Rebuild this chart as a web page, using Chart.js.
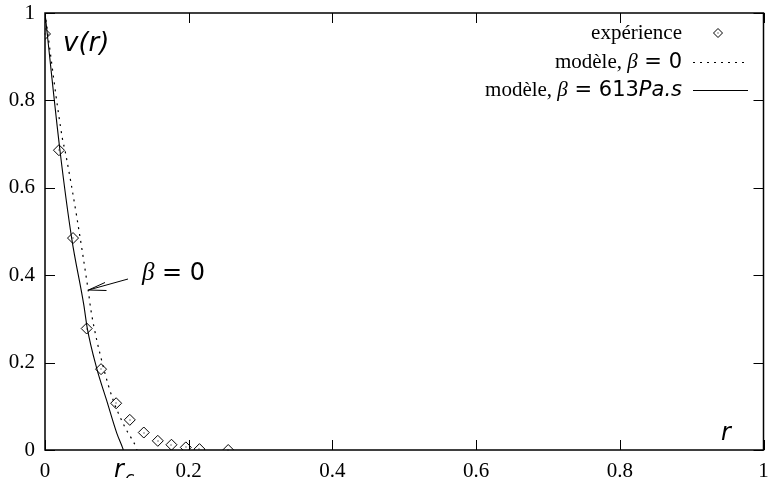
<!DOCTYPE html>
<html>
<head>
<meta charset="utf-8">
<script src="https://cdn.jsdelivr.net/npm/chart.js@4/dist/chart.umd.min.js"></script>
<style>
html,body{margin:0;padding:0;background:#fff;}
#c{display:block;}
</style>
</head>
<body>
<canvas id="c" width="770" height="478"></canvas>
<script>
// ---- data ----
const xTicks = [0, 0.2, 0.4, 0.6, 0.8, 1];
const yTicks = [0, 0.2, 0.4, 0.6, 0.8, 1];

// experimental points (diamonds)
const rExp = [0, 0.0194, 0.039, 0.058, 0.078, 0.099, 0.118, 0.1375, 0.157, 0.176, 0.196, 0.215, 0.255];
const vExp = [0.952, 0.686, 0.485, 0.278, 0.185, 0.107, 0.069, 0.040, 0.021, 0.012, 0.006, 0.002, 0.0];

// model, beta = 0 (dotted)
const rBeta0 = [0, 0.0246, 0.0278, 0.0601, 0.0639, 0.081, 0.0949, 0.111, 0.127, 0.128];
const vBeta0 = [1, 0.709, 0.686, 0.366, 0.320, 0.191, 0.114, 0.053, 0.005, 0.0];

// model, beta = 613 Pa.s (solid)
const rBeta613 = [0, 0.0208, 0.0371, 0.054, 0.0588, 0.0718, 0.0857, 0.100, 0.108, 0.109];
const vBeta613 = [1, 0.686, 0.485, 0.332, 0.279, 0.188, 0.114, 0.038, 0.005, 0.0];

const legendLabels = ['expérience', 'modèle, ', 'modèle, '];

const toPts = (xs, ys) => xs.map((x, i) => ({x: x, y: ys[i]}));

const SERIF = "'Liberation Serif', 'Times New Roman', serif";
const SANS = "'DejaVu Sans', sans-serif";

function drawRuns(ctx, runs, rightX, baseline) {
  let total = 0;
  runs.forEach(r => { ctx.font = r.font; total += ctx.measureText(r.t).width; });
  let x = rightX - total;
  ctx.textAlign = 'left';
  ctx.textBaseline = 'alphabetic';
  runs.forEach(r => { ctx.font = r.font; ctx.fillText(r.t, x, baseline); x += ctx.measureText(r.t).width; });
}

function zeroPad(s) { s.paddingTop = 0; s.paddingBottom = 0; s.paddingLeft = 0; s.paddingRight = 0; }

const decor = {
  id: 'decor',
  afterDatasetsDraw(chart) {
    const ctx = chart.ctx;
    const meta = chart.getDatasetMeta(0);
    ctx.save();
    ctx.fillStyle = '#000';
    meta.data.forEach(el => { ctx.fillRect(Math.round(el.x) - 0.5, Math.round(el.y) - 0.5, 1, 1); });
    ctx.restore();
  },
  afterDraw(chart) {
    const ctx = chart.ctx;
    const ca = chart.chartArea;
    const xs = chart.scales.x, ys = chart.scales.y;
    ctx.save();
    ctx.strokeStyle = '#000';
    ctx.fillStyle = '#000';
    // frame
    ctx.lineWidth = 1.5;
    ctx.strokeRect(ca.left, ca.top, ca.right - ca.left, ca.bottom - ca.top);
    // inward ticks
    ctx.lineWidth = 1;
    ctx.beginPath();
    xTicks.forEach(v => {
      const p = Math.round(xs.getPixelForValue(v)) + 0.5;
      ctx.moveTo(p, ca.bottom); ctx.lineTo(p, ca.bottom - 10);
      ctx.moveTo(p, ca.top); ctx.lineTo(p, ca.top + 10);
    });
    yTicks.forEach(v => {
      const p = Math.round(ys.getPixelForValue(v)) + 0.5;
      ctx.moveTo(ca.left, p); ctx.lineTo(ca.left + 10, p);
      ctx.moveTo(ca.right, p); ctx.lineTo(ca.right - 10, p);
    });
    ctx.stroke();

    // legend
    ctx.fillStyle = '#000';
    const LF = "21px " + SERIF;
    const LFI = "italic 21px " + SERIF;
    const SF = "21px " + SANS;
    const SFI = "italic 21px " + SANS;
    const textRight = 682;
    drawRuns(ctx, [{t: legendLabels[0], font: LF}], textRight, 39);
    drawRuns(ctx, [{t: legendLabels[1], font: LF}, {t: 'β', font: LFI}, {t: ' = 0', font: SF}], textRight, 68);
    drawRuns(ctx, [{t: legendLabels[2], font: LF}, {t: 'β', font: LFI}, {t: ' = 613', font: SF}, {t: 'Pa.s', font: SFI}], textRight, 96);
    // legend samples
    ctx.lineWidth = 1;
    const dx = 718, dy = 33, dr = 4.5;
    ctx.beginPath();
    ctx.moveTo(dx, dy - dr); ctx.lineTo(dx + dr, dy); ctx.lineTo(dx, dy + dr); ctx.lineTo(dx - dr, dy); ctx.closePath();
    ctx.stroke();
    ctx.fillRect(dx - 0.5, dy - 0.5, 1, 1);
    ctx.setLineDash([2, 5]);
    ctx.beginPath(); ctx.moveTo(693, 62.5); ctx.lineTo(748, 62.5); ctx.stroke();
    ctx.setLineDash([]);
    ctx.beginPath(); ctx.moveTo(693, 90.5); ctx.lineTo(748, 90.5); ctx.stroke();

    // v(r) label
    ctx.font = "italic 26px " + SANS;
    ctx.textAlign = 'left';
    ctx.fillText('v(r)', 63, 51);

    // beta = 0 annotation
    drawRuns(ctx, [{t: 'β', font: "italic 25px " + SERIF}, {t: ' = 0', font: "24px " + SANS}], 205, 280);
    ctx.lineWidth = 1;
    ctx.beginPath();
    ctx.moveTo(128, 279); ctx.lineTo(88.5, 290);
    ctx.moveTo(88.5, 290); ctx.lineTo(105, 282.5);
    ctx.moveTo(88.5, 290); ctx.lineTo(106.5, 290.5);
    ctx.stroke();

    // axis label r
    ctx.font = "italic 24px " + SANS;
    ctx.fillText('r', 721, 440);
    // r_c
    ctx.fillText('r', 114, 477);
    ctx.font = "italic 17px " + SANS;
    ctx.fillText('c', 125, 484);
    ctx.restore();
  }
};

new Chart(document.getElementById('c'), {
  type: 'scatter',
  data: {
    datasets: [
      {
        label: 'expérience',
        data: toPts(rExp, vExp),
        pointStyle: 'rectRot',
        pointRadius: 5.5,
        pointBorderWidth: 1,
        borderColor: '#000',
        backgroundColor: 'rgba(255,255,255,0)',
        showLine: false
      },
      {
        label: 'modèle, β = 0',
        data: toPts(rBeta0, vBeta0),
        showLine: true,
        pointRadius: 0,
        borderColor: '#000',
        borderWidth: 1.2,
        borderDash: [2, 5],
        cubicInterpolationMode: 'monotone',
        fill: false
      },
      {
        label: 'modèle, β = 613Pa.s',
        data: toPts(rBeta613, vBeta613),
        showLine: true,
        pointRadius: 0,
        borderColor: '#000',
        borderWidth: 1.1,
        cubicInterpolationMode: 'monotone',
        fill: false
      }
    ]
  },
  options: {
    responsive: false,
    devicePixelRatio: 1,
    animation: false,
    layout: {padding: {top: 13, right: 5, left: 0, bottom: 0}},
    plugins: {legend: {display: false}, tooltip: {enabled: false}},
    scales: {
      x: {
        type: 'linear', min: 0, max: 1,
        afterBuildTicks: s => { s.ticks = xTicks.map(v => ({value: v})); },
        afterFit: s => { s.height = 28; zeroPad(s); },
        grid: {display: false, drawTicks: false},
        border: {display: false},
        ticks: {
          color: '#000', padding: 9,
          font: {family: "'Liberation Serif', serif", size: 21},
          maxRotation: 0,
          callback: v => String(v)
        }
      },
      y: {
        type: 'linear', min: 0, max: 1,
        afterBuildTicks: s => { s.ticks = yTicks.map(v => ({value: v})); },
        afterFit: s => { s.width = 45; zeroPad(s); },
        grid: {display: false, drawTicks: false},
        border: {display: false},
        ticks: {
          color: '#000', padding: 10,
          font: {family: "'Liberation Serif', serif", size: 21},
          callback: v => String(v)
        }
      }
    }
  },
  plugins: [decor]
});
</script>
</body>
</html>
